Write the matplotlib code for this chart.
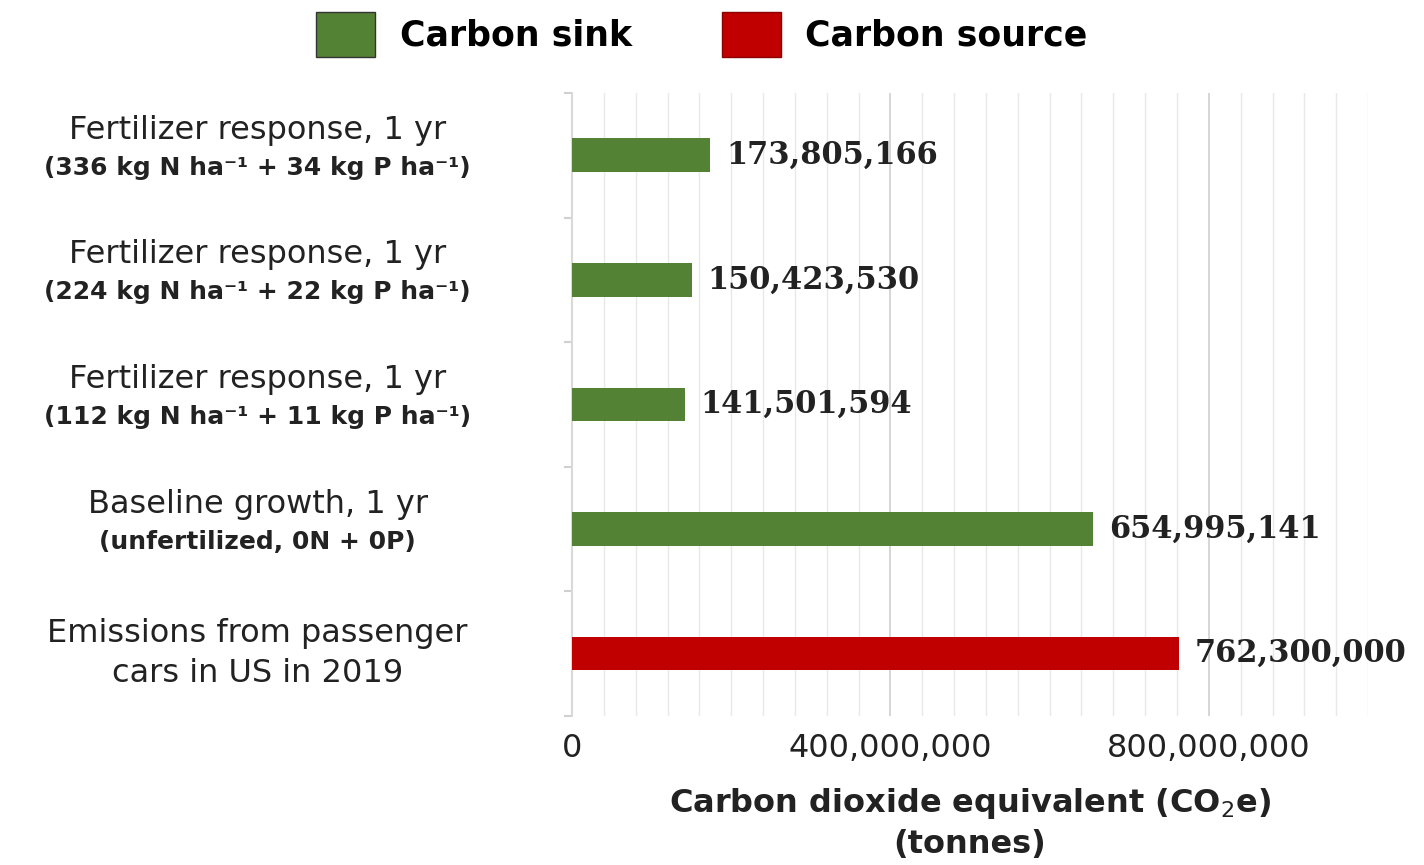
import matplotlib.pyplot as plt
import matplotlib.transforms as mtransforms
from matplotlib.patches import Patch
from matplotlib.ticker import MultipleLocator, FuncFormatter

# data
titles = ["Fertilizer response, 1 yr", "Fertilizer response, 1 yr",
          "Fertilizer response, 1 yr", "Baseline growth, 1 yr",
          "Emissions from passenger\ncars in US in 2019"]
subtitles = ["(336 kg N ha\u207b\u00b9 + 34 kg P ha\u207b\u00b9)",
             "(224 kg N ha\u207b\u00b9 + 22 kg P ha\u207b\u00b9)",
             "(112 kg N ha\u207b\u00b9 + 11 kg P ha\u207b\u00b9)",
             "(unfertilized, 0N + 0P)",
             ""]
values = [173805166, 150423530, 141501594, 654995141, 762300000]
kinds = ["sink", "sink", "sink", "sink", "source"]

green = "#548235"
red = "#c00000"
colors = {"sink": green, "source": red}

fig = plt.figure(figsize=(14.24, 8.65), dpi=100)
ax = fig.add_axes([0.4017, 0.1723, 0.559, 0.7202])

ypos = list(range(len(values)))
ax.barh(ypos, values, height=0.27, color=[colors[k] for k in kinds], zorder=3)

ax.set_xlim(0, 1000000000)
ax.set_ylim(-0.5, len(values) - 0.5)
ax.invert_yaxis()

ax.xaxis.set_major_locator(MultipleLocator(400000000))
ax.xaxis.set_minor_locator(MultipleLocator(40000000))
ax.xaxis.set_major_formatter(FuncFormatter(lambda v, p: f"{int(v):,}"))
ax.grid(axis="x", which="major", color="#cfcfcf", lw=1.2, zorder=0)
ax.grid(axis="x", which="minor", color="#e8e8e8", lw=1.0, zorder=0)
ax.tick_params(axis="x", which="both", length=0, labelsize=23, pad=12,
               labelcolor="#222222")

ax.set_yticks([])
ax.set_yticks([i - 0.5 for i in range(len(values) + 1)], minor=True)
ax.tick_params(axis="y", which="minor", length=6, color="#d0d0d0", width=1.5)
for s in ["top", "right", "bottom"]:
    ax.spines[s].set_visible(False)
ax.spines["left"].set_color("#d9d9d9")
ax.spines["left"].set_linewidth(1.5)

# value labels
for y, v in zip(ypos, values):
    ax.text(v + 20000000, y, f"{v:,}", va="center", ha="left",
            family="DejaVu Serif", fontweight="bold", fontsize=22,
            color="#222222", zorder=4)

# category labels
tr = mtransforms.blended_transform_factory(fig.transFigure, ax.transData)
for y, t, s in zip(ypos, titles, subtitles):
    if s:
        ax.text(0.181, y - 0.2, t, transform=tr, ha="center", va="center",
                fontsize=23, color="#222222", clip_on=False)
        ax.text(0.181, y + 0.1, s, transform=tr, ha="center", va="center",
                fontsize=18, fontweight="bold", color="#222222", clip_on=False)
    else:
        ax.text(0.181, y, t, transform=tr, ha="center", va="center",
                fontsize=23, color="#222222", linespacing=1.4, clip_on=False)

ax.set_xlabel("Carbon dioxide equivalent (CO$_2$e)\n(tonnes)", fontsize=23,
              fontweight="bold", color="#222222", labelpad=16, linespacing=1.35)

handles = [Patch(facecolor=green, edgecolor="#333333", label="Carbon sink"),
           Patch(facecolor=red, edgecolor="#8b0000", label="Carbon source")]
fig.legend(handles=handles, loc="upper center", bbox_to_anchor=(0.493, 1.022),
           ncol=2, frameon=False, handlelength=1.7, handleheight=1.6,
           handletextpad=0.7, columnspacing=2.6,
           prop={"size": 25, "weight": "bold"})

fig.savefig("out.png")
